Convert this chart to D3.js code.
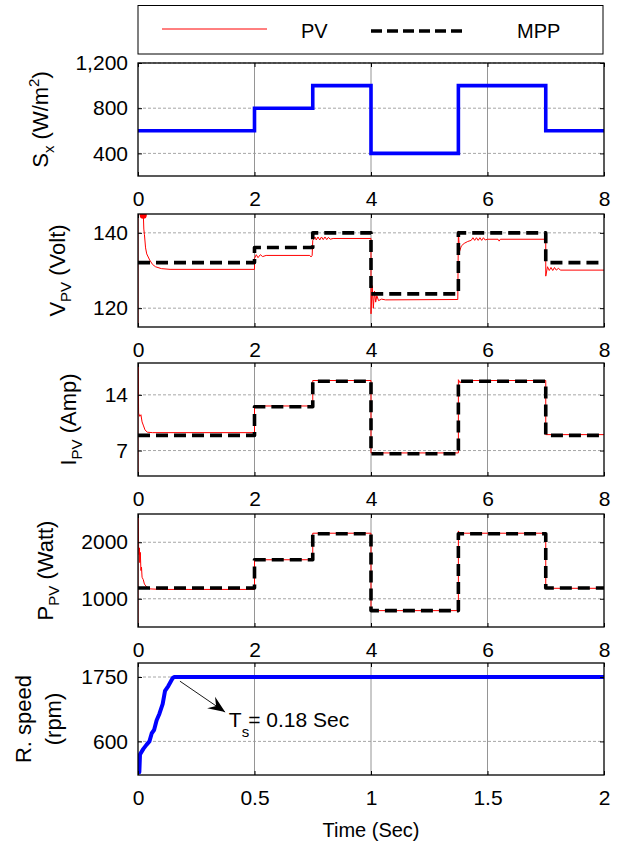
<!DOCTYPE html>
<html>
<head>
<meta charset="utf-8">
<script src="https://cdn.jsdelivr.net/npm/d3@7"></script>
<style>
  body { margin: 0; background: #fff; }
  text { font-family: "Liberation Sans", Arial, sans-serif; fill: #000; }
</style>
</head>
<body>
<div id="chart"></div>
<script>
// irradiance step profile (s) and the level held in each interval
const stepTimes = [0, 2, 3, 4, 5.5, 7, 8];
const irradiance = [600, 800, 1000, 400, 1000, 600];
const vMpp = [132.1, 136.1, 140, 123.8, 140, 132.1];
const iMpp = [8.9, 12.5, 15.7, 6.6, 15.7, 8.9];
const pMpp = [1190, 1690, 2150, 790, 2150, 1190];

// measured PV traces, [time, value]
const vPv = [
  [0, 0], [0, 146], [0.09, 145.5], [0.1, 141], [0.11, 139.6], [0.13, 136], [0.15, 134.4],
  [0.2, 132.8], [0.25, 131.6], [0.3, 131], [0.4, 130.5], [0.55, 130.3],
  [2.0, 130.3], [2.0, 133.2], [2.03, 134.2], [2.06, 133.4], [2.1, 134.2], [2.14, 133.7],
  [2.2, 134.0], [2.95, 134.0], [2.97, 133.6], [2.99, 134.0],
  [3.0, 138.0], [3.04, 138.9], [3.06, 138.1], [3.09, 138.9], [3.12, 138.1], [3.15, 138.9],
  [3.18, 138.2], [3.21, 138.9], [3.24, 138.2], [3.27, 138.8], [3.3, 138.3], [3.35, 138.5], [4.0, 138.5],
  [4.0, 118.5], [4.02, 126], [4.04, 120], [4.06, 124.5], [4.08, 121.6], [4.1, 123.3],
  [4.13, 122], [4.18, 122.4], [4.25, 122.2], [5.49, 122.3],
  [5.5, 140.5], [5.52, 135], [5.55, 136.5], [5.6, 137.2], [5.66, 137.7], [5.72, 138.0],
  [5.75, 138.7], [5.78, 138.0], [5.81, 138.7], [5.84, 138.0], [5.87, 138.7], [5.9, 138.0],
  [5.93, 138.7], [5.96, 138.1], [6.0, 138.3], [6.18, 138.3], [6.2, 137.8], [6.22, 138.3], [7.0, 138.3],
  [7.0, 128.5], [7.03, 131], [7.06, 130], [7.09, 130.8], [7.12, 130], [7.15, 130.8],
  [7.18, 130.1], [7.22, 130.6], [7.25, 130.1], [8, 130.1]
];
const vPvBlob = [[0.09, 144.7]];

const iPv = [
  [0, 0], [0, 22], [0.01, 11.7], [0.03, 11.3], [0.05, 11.5], [0.07, 10.6], [0.09, 10.2],
  [0.12, 9.6], [0.16, 9.3], [0.25, 9.25], [2.0, 9.25],
  [2.0, 12.6], [3.0, 12.6], [3.0, 15.8], [4.0, 15.8], [4.0, 6.7], [5.5, 6.7],
  [5.5, 15.9], [5.53, 15.5], [5.56, 15.8], [7.0, 15.8], [7.0, 9.0], [8, 9.0]
];

const pPv = [
  [0, 0], [0, 2700], [0.01, 1920], [0.02, 1780], [0.025, 1900], [0.03, 1640], [0.04, 1820],
  [0.05, 1500], [0.06, 1560], [0.07, 1380], [0.09, 1340], [0.11, 1260], [0.14, 1220],
  [0.2, 1175], [0.4, 1165], [2.0, 1165],
  [2.0, 1690], [3.0, 1690], [3.0, 2160], [4.0, 2160], [4.0, 790], [5.5, 790],
  [5.5, 2200], [5.53, 2140], [5.56, 2160], [7.0, 2160], [7.0, 1185], [8, 1185]
];

// rotor speed start-up
const speedTime = [0, 0.0057, 0.0086, 0.023, 0.037, 0.049, 0.059, 0.069, 0.080, 0.092, 0.106, 0.116, 0.130, 0.149, 0.156, 2];
const speedRpm = [49, 49, 368, 467, 543, 600, 746, 804, 978, 1095, 1269, 1501, 1588, 1732, 1750, 1750];

// ticks / labels
const xTicksLong = [0, 2, 4, 6, 8];
const xTicksShort = [0, 0.5, 1, 1.5, 2];
const sTicks = [400, 800, 1200];
const vTicks = [120, 140];
const iTicks = [7, 14];
const pTicks = [1000, 2000];
const speedTicks = [600, 1750];
const legendLabels = ['PV', 'MPP'];
const settleFrom = [0.18, 1675];
const settleTo = [0.374, 1123];
const settleLabelAt = [0.39, 860];

const W = 625, H = 849;
const left = 138, right = 604;
const tickFont = 21, labelFont = 22, subFont = 15;

const svg = d3.select('#chart').append('svg')
  .attr('width', W)
  .attr('height', H);

svg.append('defs').append('marker')
  .attr('id', 'arrowhead')
  .attr('markerUnits', 'userSpaceOnUse')
  .attr('viewBox', '-18 -8 20 16')
  .attr('markerWidth', 20)
  .attr('markerHeight', 16)
  .attr('refX', 0)
  .attr('refY', 0)
  .attr('orient', 'auto')
  .append('path')
  .attr('d', 'M0,0 L-17,-7 L-11,0 L-17,7 Z')
  .attr('fill', '#000');

const stepData = levels => {
  const pts = levels.map((v, i) => [stepTimes[i], v]);
  pts.push([stepTimes[stepTimes.length - 1], levels[levels.length - 1]]);
  return pts;
};

const panels = [
  { id: 'sx', top: 63, bottom: 176, xDomain: [0, 8], xTicks: xTicksLong, yDomain: [200, 1200], yTicks: sTicks,
    fmt: d3.format(','), labelX: 48,
    label: [['S', 0], ['x', 1], [' (W/m', 0], ['2', -1], [')', 0]] },
  { id: 'v', top: 214, bottom: 327, xDomain: [0, 8], xTicks: xTicksLong, yDomain: [115, 145], yTicks: vTicks,
    fmt: d3.format('d'), labelX: 65,
    label: [['V', 0], ['PV', 1], [' (Volt)', 0]] },
  { id: 'i', top: 363, bottom: 476, xDomain: [0, 8], xTicks: xTicksLong, yDomain: [3.8, 18], yTicks: iTicks,
    fmt: d3.format('d'), labelX: 76,
    label: [['I', 0], ['PV', 1], [' (Amp)', 0]] },
  { id: 'p', top: 514, bottom: 627, xDomain: [0, 8], xTicks: xTicksLong, yDomain: [500, 2500], yTicks: pTicks,
    fmt: d3.format('d'), labelX: 53,
    label: [['P', 0], ['PV', 1], [' (Watt)', 0]] },
  { id: 'w', top: 663, bottom: 775, xDomain: [0, 2], xTicks: xTicksShort, yDomain: [0, 2000], yTicks: speedTicks,
    fmt: d3.format('d'), labelX: null }
];

function drawPanel(p) {
  const x = d3.scaleLinear().domain(p.xDomain).range([left, right]);
  const y = d3.scaleLinear().domain(p.yDomain).range([p.bottom, p.top]);
  const g = svg.append('g').attr('class', 'panel_' + p.id);

  g.append('clipPath').attr('id', 'clip_' + p.id)
    .append('rect')
    .attr('x', left).attr('y', p.top)
    .attr('width', right - left).attr('height', p.bottom - p.top);

  // grid first so the traces sit above it
  g.append('g').selectAll('line').data(p.xTicks.slice(1, -1)).join('line')
    .attr('x1', d => x(d)).attr('x2', d => x(d))
    .attr('y1', p.top).attr('y2', p.bottom)
    .attr('stroke', '#7a7a7a').attr('stroke-width', 0.8);
  g.append('g').selectAll('line').data(p.yTicks).join('line')
    .attr('x1', left).attr('x2', right)
    .attr('y1', d => y(d)).attr('y2', d => y(d))
    .attr('stroke', '#9c9c9c').attr('stroke-width', 0.9)
    .attr('stroke-dasharray', '3,2');

  const plot = g.append('g').attr('clip-path', `url(#clip_${p.id})`);

  // axes with inward ticks on all four sides
  g.append('g').attr('transform', `translate(${left},0)`)
    .call(d3.axisLeft(y).tickValues(p.yTicks).tickSize(-4).tickPadding(10).tickFormat(p.fmt))
    .call(a => a.select('.domain').remove());
  g.append('g').attr('transform', `translate(${right},0)`)
    .call(d3.axisRight(y).tickValues(p.yTicks).tickSize(-4).tickFormat(''))
    .call(a => a.select('.domain').remove());
  g.append('g').attr('transform', `translate(0,${p.bottom})`)
    .call(d3.axisBottom(x).tickValues(p.xTicks).tickSize(-4).tickPadding(15).tickFormat(d3.format('')))
    .call(a => a.select('.domain').remove());
  g.append('g').attr('transform', `translate(0,${p.top})`)
    .call(d3.axisTop(x).tickValues(p.xTicks).tickSize(-4).tickFormat(''))
    .call(a => a.select('.domain').remove());
  g.selectAll('.tick line').attr('stroke', '#000').attr('stroke-width', 1);
  g.selectAll('.tick text').attr('font-size', tickFont).attr('font-family', '"Liberation Sans", Arial, sans-serif');

  g.append('rect')
    .attr('x', left).attr('y', p.top)
    .attr('width', right - left).attr('height', p.bottom - p.top)
    .attr('fill', 'none').attr('stroke', '#000').attr('stroke-width', 1.3);

  if (p.label) {
    const t = g.append('text')
      .attr('transform', `translate(${p.labelX},${(p.top + p.bottom) / 2}) rotate(-90)`)
      .attr('text-anchor', 'middle')
      .attr('font-size', labelFont);
    let shift = 0;
    p.label.forEach(([s, kind]) => {
      const dy = (kind === 1 ? 6 : kind === -1 ? -9 : 0) - shift;
      shift += dy;
      t.append('tspan').attr('dy', dy)
        .attr('font-size', kind === 0 ? labelFont : subFont)
        .text(s);
    });
  }

  return { x, y, g, plot };
}

const lineOf = (sx, sy) => d3.line().x(d => sx(d[0])).y(d => sy(d[1]));
const stepLine = (sx, sy) => d3.line().x(d => sx(d[0])).y(d => sy(d[1])).curve(d3.curveStepAfter);

const mppStyle = sel => sel.attr('fill', 'none').attr('stroke', '#000')
  .attr('stroke-width', 3.6).attr('stroke-dasharray', '12,6')
  .attr('stroke-linejoin', 'round');
const pvStyle = sel => sel.attr('fill', 'none').attr('stroke', '#ff0000').attr('stroke-width', 1);

// Panel 1: irradiance
{
  const { x, y, plot } = drawPanel(panels[0]);
  plot.append('path').datum(stepData(irradiance))
    .attr('d', stepLine(x, y))
    .attr('fill', 'none').attr('stroke', '#0000ff').attr('stroke-width', 3.6);
}

// Panels 2-4: PV trace vs MPP reference
[[panels[1], vPv, vMpp], [panels[2], iPv, iMpp], [panels[3], pPv, pMpp]].forEach(([cfg, pv, mpp]) => {
  const { x, y, plot } = drawPanel(cfg);
  plot.append('path').datum(pv).attr('d', lineOf(x, y)).call(pvStyle);
  if (cfg.id === 'v') {
    plot.selectAll('circle').data(vPvBlob).join('circle')
      .attr('cx', d => x(d[0])).attr('cy', d => y(d[1])).attr('r', 3.5)
      .attr('fill', '#ff0000');
  }
  plot.append('path').datum(stepData(mpp)).attr('d', stepLine(x, y)).call(mppStyle);
});

// Panel 5: rotor speed
{
  const { x, y, g, plot } = drawPanel(panels[4]);
  const speed = speedTime.map((t, i) => [t, speedRpm[i]]);
  plot.append('path').datum(speed).attr('d', lineOf(x, y))
    .attr('fill', 'none').attr('stroke', '#0000ff').attr('stroke-width', 4)
    .attr('stroke-linejoin', 'round');

  g.append('line')
    .attr('x1', x(settleFrom[0])).attr('y1', y(settleFrom[1]))
    .attr('x2', x(settleTo[0])).attr('y2', y(settleTo[1]))
    .attr('stroke', '#000').attr('stroke-width', 0.9)
    .attr('marker-end', 'url(#arrowhead)');

  const ann = g.append('text')
    .attr('x', x(settleLabelAt[0])).attr('y', y(settleLabelAt[1]))
    .attr('font-size', 21);
  ann.append('tspan').text('T');
  ann.append('tspan').attr('dy', 10).attr('font-size', 15).text('s');
  ann.append('tspan').attr('dy', -10).attr('dx', -1).text('= 0.18 Sec');

  // two-line y label
  const cy = (panels[4].top + panels[4].bottom) / 2;
  [['R. speed', 31], ['(rpm)', 61]].forEach(([s, lx]) => {
    g.append('text')
      .attr('transform', `translate(${lx},${cy}) rotate(-90)`)
      .attr('text-anchor', 'middle').attr('font-size', labelFont)
      .text(s);
  });

  g.append('text')
    .attr('x', (left + right) / 2).attr('y', 837)
    .attr('text-anchor', 'middle').attr('font-size', 20)
    .text('Time (Sec)');
}

// legend
{
  const lg = svg.append('g').attr('class', 'legend');
  lg.append('rect')
    .attr('x', 138).attr('y', 5.5).attr('width', 465).attr('height', 48.5)
    .attr('fill', '#fff').attr('stroke', '#000').attr('stroke-width', 1);
  lg.append('line').attr('x1', 162).attr('x2', 267).attr('y1', 29).attr('y2', 29).call(pvStyle);
  lg.append('line').attr('x1', 371).attr('x2', 464).attr('y1', 31).attr('y2', 31)
    .attr('stroke', '#000').attr('stroke-width', 3.6).attr('stroke-dasharray', '11,5');
  lg.selectAll('text.lbl').data(legendLabels).join('text')
    .attr('class', 'lbl')
    .attr('x', (d, i) => i === 0 ? 301 : 517)
    .attr('y', 38)
    .attr('font-size', 20)
    .text(d => d);
}
</script>
</body>
</html>
